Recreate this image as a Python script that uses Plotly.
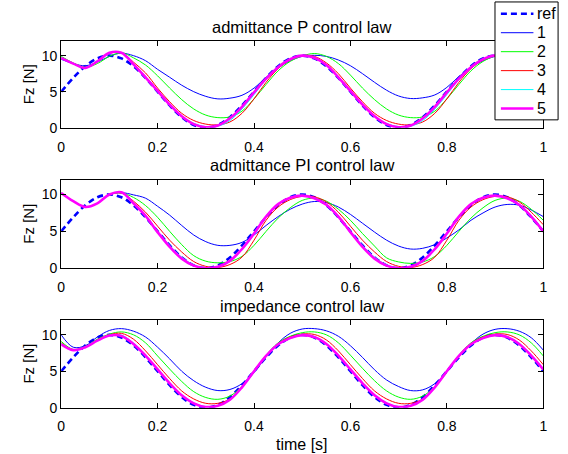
import plotly.graph_objects as go

# sample times [s]
t = [0.000, 0.025, 0.050, 0.075, 0.100, 0.125, 0.150, 0.175, 0.200, 0.225,
     0.250, 0.275, 0.300, 0.325, 0.350, 0.375, 0.400, 0.425, 0.450, 0.475,
     0.500, 0.525, 0.550, 0.575, 0.600, 0.625, 0.650, 0.675, 0.700, 0.725,
     0.750, 0.775, 0.800, 0.825, 0.850, 0.875, 0.900, 0.925, 0.950, 0.975, 1.000]

# reference force profile [N]
ref = [5.0, 6.91, 8.54, 9.62, 10.0, 9.62, 8.54, 6.91, 5.0, 3.09,
       1.46, 0.38, 0.0, 0.38, 1.46, 3.09, 5.0, 6.91, 8.54, 9.62,
       10.0, 9.62, 8.54, 6.91, 5.0, 3.09, 1.46, 0.38, 0.0, 0.38,
       1.46, 3.09, 5.0, 6.91, 8.54, 9.62, 10.0, 9.62, 8.54, 6.91, 5.0]

# admittance P control law, gains 1..5
p_1 = [9.5, 8.9, 8.6, 9.1, 9.9, 10.35, 10.0, 9.3, 8.1, 7.0,
       5.9, 5.0, 4.35, 4.0, 4.1, 4.5, 5.5, 7.0, 8.3, 9.3,
       9.9, 10.05, 9.9, 9.4, 8.6, 7.5, 6.3, 5.2, 4.4, 4.05,
       4.15, 4.55, 5.6, 7.1, 8.4, 9.3, 9.9, 10.05, 9.9, 9.4, 8.6]
p_2 = [9.9, 9.0, 8.4, 8.9, 9.9, 10.4, 9.7, 8.7, 7.2, 5.5,
       3.9, 2.6, 1.75, 1.4, 1.5, 2.3, 4.0, 6.0, 7.9, 9.2,
       9.95, 10.3, 9.9, 8.9, 7.3, 5.5, 3.9, 2.6, 1.75, 1.4,
       1.5, 2.3, 4.0, 6.0, 7.9, 9.2, 9.95, 10.3, 9.9, 8.9, 7.3]
p_3 = [9.7, 8.9, 8.3, 9.2, 10.3, 10.4, 9.1, 7.6, 5.5, 3.6,
       2.0, 1.0, 0.5, 0.4, 0.8, 2.0, 4.0, 6.3, 8.2, 9.4,
       10.0, 9.9, 9.0, 7.5, 5.5, 3.6, 2.0, 1.0, 0.5, 0.4,
       0.8, 2.0, 4.0, 6.3, 8.2, 9.4, 10.0, 9.9, 9.0, 7.5, 5.5]
p_4 = [9.7, 8.9, 8.3, 9.2, 10.35, 10.4, 8.8, 7.1, 5.1, 3.2,
       1.6, 0.6, 0.15, 0.2, 1.0, 2.6, 4.6, 6.7, 8.4, 9.5,
       10.0, 9.7, 8.7, 7.0, 5.1, 3.2, 1.6, 0.6, 0.15, 0.2,
       1.0, 2.6, 4.6, 6.7, 8.4, 9.5, 10.0, 9.7, 8.7, 7.0, 5.1]
p_5 = [9.7, 8.9, 8.3, 9.2, 10.4, 10.4, 8.8, 7.0, 5.1, 3.2,
       1.6, 0.5, 0.05, 0.3, 1.3, 2.9, 4.9, 6.8, 8.4, 9.5,
       10.0, 9.7, 8.7, 7.0, 5.1, 3.2, 1.6, 0.5, 0.05, 0.3,
       1.3, 2.9, 4.9, 6.8, 8.4, 9.5, 10.0, 9.7, 8.7, 7.0, 5.1]

# admittance PI control law, gains 1..5
pi_1 = [10.2, 9.1, 8.3, 8.8, 10.0, 10.25, 9.95, 9.5, 8.4, 7.2,
        5.8, 4.5, 3.6, 3.1, 3.1, 3.5, 4.5, 5.8, 7.0, 8.0,
        8.7, 9.05, 8.9, 8.3, 7.3, 6.1, 4.9, 3.8, 3.0, 2.6,
        2.7, 3.2, 4.1, 5.2, 6.5, 7.5, 8.3, 8.65, 8.55, 7.9, 7.0]
pi_2 = [10.2, 9.1, 8.3, 8.8, 10.0, 10.2, 9.6, 8.5, 6.9, 5.0,
        3.2, 1.7, 0.95, 0.73, 0.9, 1.6, 3.1, 5.0, 6.8, 8.2,
        9.2, 9.5, 9.1, 8.0, 6.5, 4.7, 3.0, 1.4, 0.85, 0.65,
        0.85, 1.6, 3.1, 5.0, 6.8, 8.2, 9.2, 9.5, 9.1, 8.0, 6.5]
pi_3 = [10.2, 9.1, 8.3, 8.8, 10.0, 10.2, 9.1, 7.6, 5.7, 3.8,
        2.2, 0.9, 0.25, 0.1, 0.5, 1.5, 3.8, 6.5, 8.3, 9.3,
        9.75, 9.7, 9.0, 7.6, 5.7, 3.8, 2.2, 0.9, 0.25, 0.1,
        0.5, 1.5, 3.8, 6.5, 8.3, 9.3, 9.75, 9.7, 9.0, 7.6, 5.9]
pi_4 = [10.2, 9.1, 8.3, 8.8, 10.0, 10.3, 8.9, 7.2, 5.0, 3.1,
        1.5, 0.45, 0.05, 0.15, 0.9, 2.5, 4.6, 7.0, 8.7, 9.6,
        9.9, 9.5, 8.6, 7.1, 5.0, 3.1, 1.5, 0.45, 0.05, 0.15,
        0.9, 2.5, 4.6, 7.0, 8.7, 9.6, 9.9, 9.5, 8.6, 7.1, 5.1]
pi_5 = [10.2, 9.1, 8.3, 8.8, 10.0, 10.3, 8.8, 7.1, 4.9, 2.9,
        1.3, 0.35, 0.0, 0.2, 1.0, 2.6, 4.7, 7.0, 8.7, 9.55,
        9.85, 9.5, 8.6, 7.0, 4.9, 2.9, 1.3, 0.35, 0.0, 0.2,
        1.0, 2.6, 4.7, 7.0, 8.7, 9.55, 9.85, 9.5, 8.6, 7.0, 5.0]

# impedance control law, gains 1..5
imp_1 = [10.0, 8.3, 8.5, 9.7, 10.6, 10.85, 10.5, 9.7, 8.3, 6.7,
         5.0, 3.7, 2.8, 2.35, 2.5, 3.3, 4.8, 7.0, 8.9, 10.2,
         10.8, 10.85, 10.55, 9.8, 8.5, 6.9, 5.2, 3.8, 2.9, 2.35,
         2.45, 3.3, 4.9, 7.0, 8.8, 10.1, 10.75, 10.85, 10.5, 9.6, 7.9]
imp_2 = [9.1, 8.0, 8.4, 9.4, 10.1, 10.4, 10.0, 8.9, 7.1, 5.3,
         3.6, 2.2, 1.4, 1.15, 1.6, 2.9, 5.0, 7.2, 8.9, 9.8,
         10.3, 10.4, 10.0, 8.9, 7.2, 5.4, 3.7, 2.3, 1.45, 1.15,
         1.6, 2.9, 5.0, 7.2, 8.9, 9.8, 10.3, 10.4, 10.0, 8.9, 7.1]
imp_3 = [8.9, 7.95, 8.3, 9.3, 10.0, 10.2, 9.4, 7.8, 5.9, 4.0,
         2.3, 1.2, 0.6, 0.6, 1.2, 2.8, 5.0, 7.2, 8.8, 9.7,
         10.1, 10.05, 9.3, 7.8, 5.9, 4.0, 2.3, 1.2, 0.6, 0.6,
         1.2, 2.8, 5.0, 7.2, 8.8, 9.7, 10.1, 10.05, 9.3, 7.8, 5.9]
imp_4 = [8.8, 7.9, 8.3, 9.2, 9.9, 9.95, 8.85, 7.2, 5.3, 3.4,
         1.75, 0.65, 0.15, 0.25, 1.1, 2.8, 5.0, 7.1, 8.7, 9.6,
         10.0, 9.75, 8.8, 7.2, 5.3, 3.4, 1.75, 0.65, 0.15, 0.25,
         1.1, 2.8, 5.0, 7.1, 8.7, 9.6, 10.0, 9.75, 8.8, 7.2, 5.3]
imp_5 = [8.7, 7.9, 8.3, 9.2, 9.9, 9.85, 8.75, 7.15, 5.25, 3.35,
         1.7, 0.6, 0.1, 0.25, 1.1, 2.8, 5.0, 7.1, 8.7, 9.55,
         9.95, 9.7, 8.75, 7.15, 5.25, 3.35, 1.7, 0.6, 0.1, 0.25,
         1.1, 2.8, 5.0, 7.1, 8.7, 9.55, 9.95, 9.7, 8.75, 7.15, 5.25]

panel_titles = ["admittance P control law", "admittance PI control law", "impedance control law"]
panels = [[p_1, p_2, p_3, p_4, p_5], [pi_1, pi_2, pi_3, pi_4, pi_5], [imp_1, imp_2, imp_3, imp_4, imp_5]]
series_names = ["1", "2", "3", "4", "5"]
series_colors = ["#0000ff", "#00ff00", "#ff0000", "#00ffff", "#ff00ff"]
series_widths = [1, 1, 1, 1, 2.6]
ref_color, ref_width, ref_dash = "#0000ff", 2.6, "6px,4px"
x_ticks = [0, 0.2, 0.4, 0.6, 0.8, 1.0]
x_tick_text = ["0", "0.2", "0.4", "0.6", "0.8", "1"]
y_ticks = [0, 5, 10]

FONT = "Liberation Sans, Arial, Helvetica, sans-serif"
W, H = 568, 454
x_dom = [58 / W, 547 / W]
# (top, bottom) pixel rows of each axes box
boxes = [(42, 130), (183, 273), (326, 415)]


def px(x):
    return x / W


def py(y):
    return 1 - y / H


fig = go.Figure()
for i, curves in enumerate(panels):
    ax = "" if i == 0 else str(i + 1)
    fig.add_trace(go.Scatter(
        x=t, y=ref, name="ref", mode="lines", line_shape="spline",
        line=dict(color=ref_color, width=ref_width, dash=ref_dash),
        xaxis="x" + ax, yaxis="y" + ax, showlegend=False))
    for name, vals, col, w in zip(series_names, curves, series_colors, series_widths):
        fig.add_trace(go.Scatter(
            x=t, y=vals, name=name, mode="lines", line_shape="spline",
            line=dict(color=col, width=w),
            xaxis="x" + ax, yaxis="y" + ax, showlegend=False))

axis_common = dict(showline=True, linecolor="black", linewidth=1, mirror="ticks",
                   ticks="inside", ticklen=5, tickcolor="black", tickwidth=1,
                   showgrid=False, zeroline=False,
                   tickfont=dict(family=FONT, size=14, color="black"))
layout = {}
for i, (top, bot) in enumerate(boxes):
    ax = "" if i == 0 else str(i + 1)
    layout["xaxis" + ax] = dict(axis_common, domain=x_dom, range=[0, 1],
                                tickvals=x_ticks, ticktext=x_tick_text,
                                ticklabelstandoff=6, anchor="y" + ax)
    layout["yaxis" + ax] = dict(axis_common, domain=[py(bot), py(top)],
                                range=[0, 12], tickvals=y_ticks,
                                anchor="x" + ax)

annotations = []
title_rows = [27, 168, 311]
for i, (title, row) in enumerate(zip(panel_titles, title_rows)):
    annotations.append(dict(text=title, x=(x_dom[0] + x_dom[1]) / 2, y=py(row),
                            xref="paper", yref="paper", showarrow=False,
                            xanchor="center", yanchor="middle",
                            font=dict(family=FONT, size=16.5, color="black")))
    top, bot = boxes[i]
    annotations.append(dict(text="Fz [N]", x=px(25), y=py((top + bot) / 2),
                            xref="paper", yref="paper", showarrow=False, textangle=-90,
                            xanchor="center", yanchor="middle",
                            font=dict(family=FONT, size=15, color="black")))
annotations.append(dict(text="time [s]", x=(x_dom[0] + x_dom[1]) / 2, y=py(452),
                        xref="paper", yref="paper", showarrow=False,
                        xanchor="center", yanchor="middle",
                        font=dict(family=FONT, size=16, color="black")))

# legend box in the upper right corner
shapes = [dict(type="rect", xref="paper", yref="paper", layer="above",
               x0=px(498), x1=px(562), y0=py(122), y1=py(2),
               line=dict(color="black", width=1), fillcolor="white")]
legend_names = ["ref"] + series_names
legend_styles = [(ref_color, ref_width, ref_dash)] + [
    (c, w, "solid") for c, w in zip(series_colors, series_widths)]
legend_rows = [14, 33.3, 52.6, 71.9, 91.2, 110.5]
for name, (col, w, dash), row in zip(legend_names, legend_styles, legend_rows):
    shapes.append(dict(type="line", xref="paper", yref="paper", layer="above",
                       x0=px(504), x1=px(537), y0=py(row), y1=py(row),
                       line=dict(color=col, width=w, dash=dash)))
    annotations.append(dict(text=name, x=px(538.5), y=py(row), xref="paper", yref="paper",
                            showarrow=False, xanchor="left", yanchor="middle",
                            font=dict(family=FONT, size=16, color="black")))

fig.update_layout(
    width=W, height=H,
    margin=dict(l=0, r=0, t=0, b=0),
    paper_bgcolor="white", plot_bgcolor="white",
    showlegend=False,
    annotations=annotations,
    shapes=shapes,
    **layout,
)

fig.write_html("out.html")
